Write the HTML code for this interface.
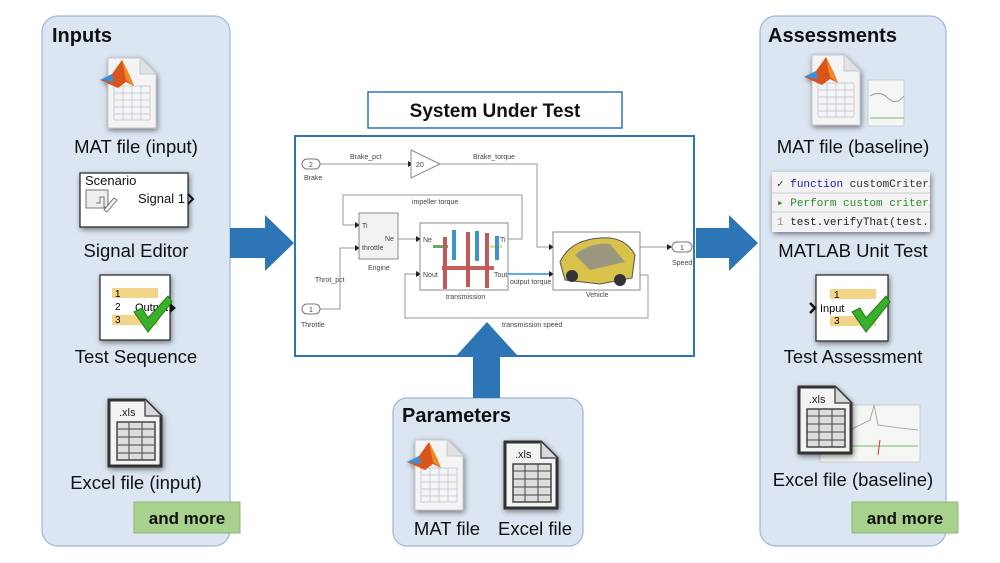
<!DOCTYPE html>
<html><head><meta charset="utf-8"><style>
html,body{margin:0;padding:0;background:#fff;}
svg{display:block;font-family:"Liberation Sans",Arial,sans-serif;}
</style></head><body>
<svg width="1000" height="563" viewBox="0 0 1000 563" xmlns="http://www.w3.org/2000/svg">
<defs>
<clipPath id="codeclip"><rect x="772" y="172" width="158" height="60"/></clipPath>
<filter id="sh" x="-30%" y="-30%" width="160%" height="160%"><feGaussianBlur in="SourceAlpha" stdDeviation="3"/><feOffset dx="1" dy="2"/><feComponentTransfer><feFuncA type="linear" slope="0.5"/></feComponentTransfer><feMerge><feMergeNode/><feMergeNode in="SourceGraphic"/></feMerge></filter>
<g id="matic">
 <path d="M8 0 H40 L56 16 V70 H8 Z" fill="#f4f4f4" stroke="#c8c8c8"/>
 <path d="M40 0 V16 H56" fill="#e2e2e2" stroke="#c8c8c8"/>
 <g stroke="#b9c6d4" stroke-width="0.8" fill="none">
  <rect x="14" y="28" width="36" height="34"/>
  <line x1="14" y1="35" x2="50" y2="35"/><line x1="14" y1="42" x2="50" y2="42"/><line x1="14" y1="49" x2="50" y2="49"/><line x1="14" y1="56" x2="50" y2="56"/>
  <line x1="23" y1="28" x2="23" y2="62"/><line x1="32" y1="28" x2="32" y2="62"/><line x1="41" y1="28" x2="41" y2="62"/>
 </g>
 <path d="M0 22 L12 16 L22 2 L30 18 L34 28 L26 24 L18 30 Z" fill="#d9541e"/>
 <path d="M22 2 L30 18 L34 28 L26 22 Z" fill="#f08a24"/>
 <path d="M0 22 L12 16 L14 24 Z" fill="#3a8fd6"/>
</g>
<g id="xlsic">
 <path d="M2 2 H38 L54 18 V68 H2 Z" fill="#f3f3f3" stroke="#333" stroke-width="3"/>
 <path d="M38 2 V18 H54" fill="#d8d8d8" stroke="#555" stroke-width="1.5"/>
 <rect x="10" y="24" width="38" height="38" fill="#ddd" stroke="#444" stroke-width="1.5"/>
 <g stroke="#444" stroke-width="1"><line x1="10" y1="31" x2="48" y2="31"/><line x1="10" y1="39" x2="48" y2="39"/><line x1="10" y1="47" x2="48" y2="47"/><line x1="10" y1="55" x2="48" y2="55"/><line x1="22" y1="24" x2="22" y2="62"/><line x1="35" y1="24" x2="35" y2="62"/></g>
</g>
<g id="chk"><path d="M0 16 L8 12 L14 22 L34 0 L38 6 L14 36 Z" fill="#3ab02a" stroke="#1d7a14" stroke-width="1"/></g>
</defs>

<rect x="42" y="16" width="188" height="530" rx="16" fill="#dce6f2" stroke="#9eb6d6" stroke-width="1.2"/>
<rect x="760" y="16" width="186" height="530" rx="16" fill="#dce6f2" stroke="#9eb6d6" stroke-width="1.2"/>
<rect x="393" y="398" width="190" height="148" rx="14" fill="#dce6f2" stroke="#9eb6d6" stroke-width="1.2"/>

<path d="M230 228 H265 V215 L294 243 L265 271 V258 H230 Z" fill="#2e75b6"/>
<path d="M696 228 H729 V215 L758 243 L729 271 V258 H696 Z" fill="#2e75b6"/>

<rect x="368" y="92" width="254" height="36" fill="#fff" stroke="#2e75b6" stroke-width="1.5"/>
<text x="495" y="117" text-anchor="middle" font-size="19" font-weight="bold" fill="#111">System Under Test</text>
<rect x="295" y="136" width="399" height="220" fill="#fff" stroke="#2e75b6" stroke-width="2"/>

<g font-size="7" fill="#444" stroke-width="1">
 <g fill="none" stroke="#999">
  <line x1="320" y1="164" x2="408" y2="164"/>
  <polyline points="440,164 537,164 537,247 551,247"/>
  <polyline points="508,239 522,239 522,195 343,195 343,225 357,225"/>
  <line x1="398" y1="239" x2="418" y2="239"/>
  <polyline points="640,275 648,275 648,318 405,318 405,274 418,274"/>
  <line x1="640" y1="247" x2="668" y2="247"/>
  <polyline points="320,309 340,309 340,248 357,248"/>
 </g>
 <line x1="508" y1="274" x2="551" y2="274" stroke="#2e8ed8" stroke-width="1.5"/>
 <g fill="#222">
  <path d="M408 161 L413 164 L408 167Z"/><path d="M355 222 L360 225 L355 228Z"/><path d="M355 245 L360 248 L355 251Z"/>
  <path d="M416 236 L421 239 L416 242Z"/><path d="M416 271 L421 274 L416 277Z"/><path d="M549 244 L554 247 L549 250Z"/>
  <path d="M549 271 L554 274 L549 277Z"/><path d="M667 244 L672 247 L667 250Z"/>
 </g>
 <rect x="302" y="159" width="18" height="10" rx="5" fill="#fff" stroke="#777"/><text x="311" y="167" text-anchor="middle">2</text>
 <text x="304" y="180">Brake</text>
 <rect x="302" y="304" width="18" height="10" rx="5" fill="#fff" stroke="#777"/><text x="311" y="312" text-anchor="middle">1</text>
 <text x="301" y="327">Throttle</text>
 <rect x="672" y="242" width="20" height="10" rx="5" fill="#fff" stroke="#777"/><text x="682" y="250" text-anchor="middle">1</text>
 <text x="672" y="265">Speed</text>
 <text x="350" y="159">Brake_pct</text><text x="473" y="159">Brake_torque</text>
 <text x="412" y="204">impeller torque</text><text x="315" y="282">Throt_pct</text>
 <text x="510" y="284">output torque</text><text x="502" y="327">transmission speed</text>
 <path d="M411 150 L440 164 L411 178Z" fill="#fff" stroke="#888"/><text x="416" y="167">20</text>
 <rect x="359" y="213" width="39" height="46" fill="#f2f2f2" stroke="#888"/>
 <text x="362" y="228">Ti</text><text x="362" y="250">throttle</text><text x="385" y="241">Ne</text><text x="368" y="270">Engine</text>
 <rect x="420" y="223" width="88" height="67" fill="#fff" stroke="#888"/>
 <text x="423" y="242">Ne</text><text x="423" y="277">Nout</text><text x="500" y="242">Ti</text><text x="494" y="277">Tout</text>
 <text x="446" y="299">transmission</text>
 <rect x="433" y="245" width="15" height="3" fill="#5fae5f"/><rect x="490" y="245" width="12" height="3" fill="#e8e08a"/>
 <rect x="442" y="266" width="52" height="4" fill="#c96060"/>
 <g fill="#c05a5a"><rect x="443" y="237" width="4" height="52"/><rect x="466" y="232" width="4" height="55"/><rect x="485" y="233" width="4" height="55"/></g>
 <g fill="#3c94c8"><rect x="452" y="230" width="4" height="30"/><rect x="475" y="231" width="4" height="30"/><rect x="495" y="236" width="4" height="24"/></g>
 <rect x="553" y="232" width="87" height="58" fill="#fff" stroke="#888"/>
 <path d="M560 262 Q570 240 600 238 Q625 236 635 255 L632 278 L600 284 L565 280 Z" fill="#d8c24a" stroke="#555"/>
 <path d="M575 255 Q590 242 610 244 L625 262 L590 270 Z" fill="#8c8c8c" opacity="0.8"/>
 <circle cx="572" cy="276" r="6" fill="#333"/><circle cx="620" cy="280" r="6" fill="#333"/>
 <text x="586" y="297">Vehicle</text>
</g>
<path d="M473 398 V355 H457 L487 322 L517 355 H500 V398 Z" fill="#2e75b6"/>

<text x="52" y="42" font-size="20" font-weight="bold" fill="#111">Inputs</text>
<use href="#matic" x="100" y="58" filter="url(#sh)"/>
<text x="136" y="153" text-anchor="middle" font-size="18.5" fill="#111">MAT file (input)</text>
<g filter="url(#sh)"><rect x="80" y="173" width="108" height="54" fill="#fff" stroke="#222" stroke-width="1.2"/></g>
<text x="85" y="185" font-size="13" fill="#111">Scenario</text>
<text x="138" y="203" font-size="13" fill="#111">Signal 1</text>
<path d="M188 194 L193 199 L188 204" fill="none" stroke="#111" stroke-width="2"/>
<g stroke="#777" fill="#eee"><rect x="86" y="190" width="22" height="18"/><path d="M96 203 H100 V197 H104 V207 H110" fill="none"/><path d="M104 210 L114 198 L117 200 L107 212 Z" fill="#fff"/></g>
<text x="136" y="257" text-anchor="middle" font-size="18.5" fill="#111">Signal Editor</text>
<g filter="url(#sh)"><rect x="100" y="275" width="70" height="65" fill="#fff" stroke="#222" stroke-width="1.2"/></g>
<rect x="112" y="288" width="46" height="10" fill="#f3d58a"/><rect x="112" y="315" width="46" height="10" fill="#f3d58a"/>
<text x="115" y="297" font-size="10">1</text><text x="115" y="310" font-size="10">2</text><text x="115" y="323" font-size="10">3</text>
<text x="135" y="311" font-size="11">Output</text>
<path d="M170 303 L176 308 L170 313Z" fill="#111"/>
<use href="#chk" x="134" y="296"/>
<text x="136" y="363" text-anchor="middle" font-size="18.5" fill="#111">Test Sequence</text>
<use href="#xlsic" x="107" y="398" filter="url(#sh)"/>
<text x="119" y="416" font-size="11" fill="#222">.xls</text>
<text x="136" y="489" text-anchor="middle" font-size="18.5" fill="#111">Excel file (input)</text>
<rect x="134" y="502" width="106" height="31" fill="#a9d18e" stroke="#8cb874"/>
<text x="187" y="524" text-anchor="middle" font-size="17" font-weight="bold" fill="#111">and more</text>

<text x="768" y="42" font-size="20" font-weight="bold" fill="#111">Assessments</text>
<rect x="868" y="80" width="36" height="46" fill="#f4f6f4" stroke="#ccc"/>
<path d="M870 96 Q880 90 888 98 T904 96" fill="none" stroke="#999"/><line x1="870" y1="118" x2="904" y2="118" stroke="#7bbb6c"/>
<use href="#matic" x="804" y="55" filter="url(#sh)"/>
<text x="853" y="153" text-anchor="middle" font-size="18.5" fill="#111">MAT file (baseline)</text>
<g filter="url(#sh)"><rect x="772" y="172" width="158" height="60" fill="#f3f3f3"/></g>
<line x1="772" y1="193" x2="930" y2="193" stroke="#ccc"/><line x1="772" y1="212" x2="930" y2="212" stroke="#ccc"/>
<g font-family="Liberation Mono,monospace" font-size="11" clip-path="url(#codeclip)">
<text x="777" y="187" fill="#333">✓ <tspan fill="#1b1bb5">function</tspan> <tspan fill="#333">customCriteria</tspan></text>
<text x="777" y="206" fill="#2c8a2c">▸ Perform custom criteria</text>
<text x="777" y="225" fill="#222"><tspan fill="#999">1</tspan> test.verifyThat(test.sl</text>
</g>
<text x="853" y="257" text-anchor="middle" font-size="18.5" fill="#111">MATLAB Unit Test</text>
<g filter="url(#sh)"><rect x="816" y="275" width="72" height="66" fill="#fff" stroke="#222" stroke-width="1.2"/></g>
<rect x="830" y="289" width="46" height="10" fill="#f3d58a"/><rect x="830" y="316" width="46" height="10" fill="#f3d58a"/>
<text x="834" y="298" font-size="10">1</text><text x="834" y="324" font-size="10">3</text>
<text x="820" y="312" font-size="11">Input</text>
<path d="M810 303 L815 308 L810 313" fill="none" stroke="#111" stroke-width="2.5"/>
<use href="#chk" x="852" y="296"/>
<text x="853" y="363" text-anchor="middle" font-size="18.5" fill="#111">Test Assessment</text>
<rect x="820" y="405" width="100" height="57" fill="#f4f6f4" stroke="#ccc"/>
<path d="M850 430 L870 420 L874 405 L878 425 L900 428 L918 430" fill="none" stroke="#aaa"/>
<line x1="850" y1="446" x2="918" y2="446" stroke="#7bbb6c"/><line x1="880" y1="440" x2="878" y2="455" stroke="#d33"/>
<use href="#xlsic" x="797" y="385" filter="url(#sh)"/>
<text x="809" y="403" font-size="11" fill="#222">.xls</text>
<text x="853" y="486" text-anchor="middle" font-size="18.5" fill="#111">Excel file (baseline)</text>
<rect x="852" y="502" width="106" height="31" fill="#a9d18e" stroke="#8cb874"/>
<text x="905" y="524" text-anchor="middle" font-size="17" font-weight="bold" fill="#111">and more</text>

<text x="402" y="422" font-size="20" font-weight="bold" fill="#111">Parameters</text>
<use href="#matic" x="407" y="440" filter="url(#sh)"/>
<use href="#xlsic" x="503" y="440" filter="url(#sh)"/>
<text x="515" y="458" font-size="11" fill="#222">.xls</text>
<text x="447" y="535" text-anchor="middle" font-size="18.5" fill="#111">MAT file</text>
<text x="535" y="535" text-anchor="middle" font-size="18.5" fill="#111">Excel file</text>
</svg>
</body></html>
